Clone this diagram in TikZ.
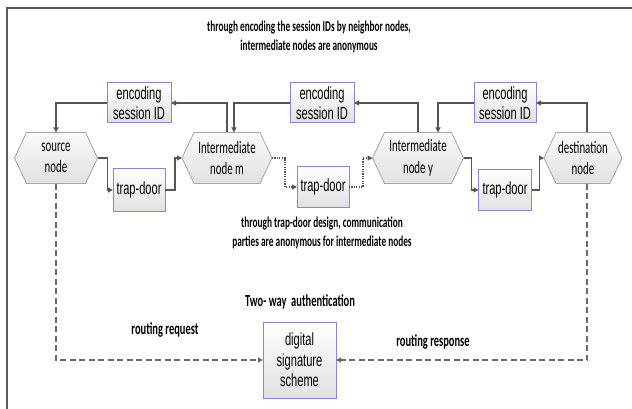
\documentclass[tikz,border=0pt]{standalone}
\usepackage{fontspec}
\setmainfont{Carlito}
\newfontfamily\noteface[FakeStretch=0.62]{Carlito}
\newfontfamily\boxface[FakeStretch=0.63]{Liberation Sans}
\usetikzlibrary{arrows.meta,calc,backgrounds}

\definecolor{linec}{HTML}{555555}
\definecolor{boxedge}{HTML}{8A84D6}
\definecolor{hexedge}{HTML}{A6A6A6}
\definecolor{dashc}{HTML}{6A6A6A}
\definecolor{framec}{HTML}{5A5A5A}

\tikzset{
  every node/.style={inner sep=0pt, outer sep=0pt},
  proc/.style={draw=boxedge, line width=1pt, top color=white, bottom color=black!12,
    align=center, font=\boxface\fontsize{17.6}{20.5}\selectfont},
  hexnode/.style={align=center, font=\noteface\fontsize{17.5}{21.5}\selectfont},
  hexface/.style={draw=hexedge, line width=0.8pt, top color=black!2, bottom color=black!12},
  note/.style={align=center, font=\noteface\bfseries\fontsize{15}{19}\selectfont},
  tag/.style={font=\noteface\bfseries\fontsize{16.9}{18}\selectfont},
  flow/.style={draw=linec, line width=1.2pt, -{Triangle[length=5pt,width=5pt]}},
  hintflow/.style={flow, dash pattern=on 1.2pt off 1.2pt},
  reply/.style={draw=dashc, line width=1.2pt, dash pattern=on 6pt off 3.5pt,
    -{Triangle[length=5pt,width=5pt]}},
}

\begin{document}
\begin{tikzpicture}[x=1pt,y=-1pt]
\useasboundingbox (0,0) rectangle (632,409);

% outer frame (top and left edges)
\draw[framec, line width=2pt] (7,409) -- (7,8) -- (632,8);

% captions
\node[note] (topnote) at (309,37) {through encoding the session IDs by neighbor nodes,\\intermediate nodes are anonymous};
\node[note] (trapnote) at (322,233) {through trap-door design, communication\\parties are anonymous for intermediate nodes};
\node[tag] (twoway) at (300,302) {Two- way\ \ authentication};
\node[tag] (req) at (165,330) {routing request};
\node[tag] (resp) at (433,342) {routing response};

% session ID encoders
\node[proc, minimum width=64, minimum height=40] (enc1) at (139,103) {encoding\\session ID};
\node[proc, minimum width=64, minimum height=40] (enc2) at (322,103) {encoding\\session ID};
\node[proc, minimum width=62, minimum height=40] (enc3) at (505,103) {encoding\\session ID};

% route nodes
\node[hexnode, minimum width=83, minimum height=51] (src) at (56,158) {source\\node};
\node[hexnode, minimum width=90, minimum height=51] (midm) at (227,158) {Intermediate\\node m};
\node[hexnode, minimum width=91, minimum height=51] (midy) at (418,158) {Intermediate\\node y};
\node[hexnode, minimum width=78, minimum height=51] (dst) at (583,158) {destination\\node};

\begin{scope}[on background layer]
  \fill[white] (0,0) rectangle (632,409);
  \foreach \n in {src,midm,midy,dst}
    \draw[hexface] (\n.west) -- ($(\n.north west)+(12,0)$) -- ($(\n.north east)+(-12,0)$)
      -- (\n.east) -- ($(\n.south east)+(-12,0)$) -- ($(\n.south west)+(12,0)$) -- cycle;
\end{scope}

% trap-doors
\node[proc, minimum width=52, minimum height=42] (trap1) at (139,190) {trap-door};
\node[proc, minimum width=52, minimum height=40] (trap2) at (323,187) {trap-door};
\node[proc, minimum width=53, minimum height=41] (trap3) at (505,190) {trap-door};

% signature check
\node[proc, minimum width=73, minimum height=76] (sig) at (299.5,360) {digital\\signature\\scheme};

% forward path through trap-doors
\draw[flow] (src.east) -- ++(10,0) |- (trap1.west);
\draw[flow] (trap1.east) -- ++(10,0) |- (midm.west);
\draw[hintflow] (midm.east) -- ++(13,0) |- (trap2.west);
\draw[hintflow] (trap2.east) -- ++(14,0) |- (midy.west);
\draw[flow] (midy.east) -- ++(8,0) |- (trap3.west);
\draw[flow] (trap3.east) -- ++(8,0) |- (dst.west);

% session ID encoding between neighbours
\draw[flow] (enc1.west) -| (src.north);
\draw[flow] (midm.north) |- (enc1.east);
\draw[flow] (enc2.west) -| ($(midm.north)+(7,0)$);
\draw[flow] (midy.north) |- (enc2.east);
\draw[flow] (enc3.west) -| ($(midy.north)+(20,0)$);
\draw[flow] ($(dst.north)+(4,0)$) |- (enc3.east);

% authentication exchange
\draw[reply] (src.south) |- (sig.west);
\draw[reply] ($(dst.south)+(4,0)$) |- (sig.east);
\end{tikzpicture}
\end{document}
